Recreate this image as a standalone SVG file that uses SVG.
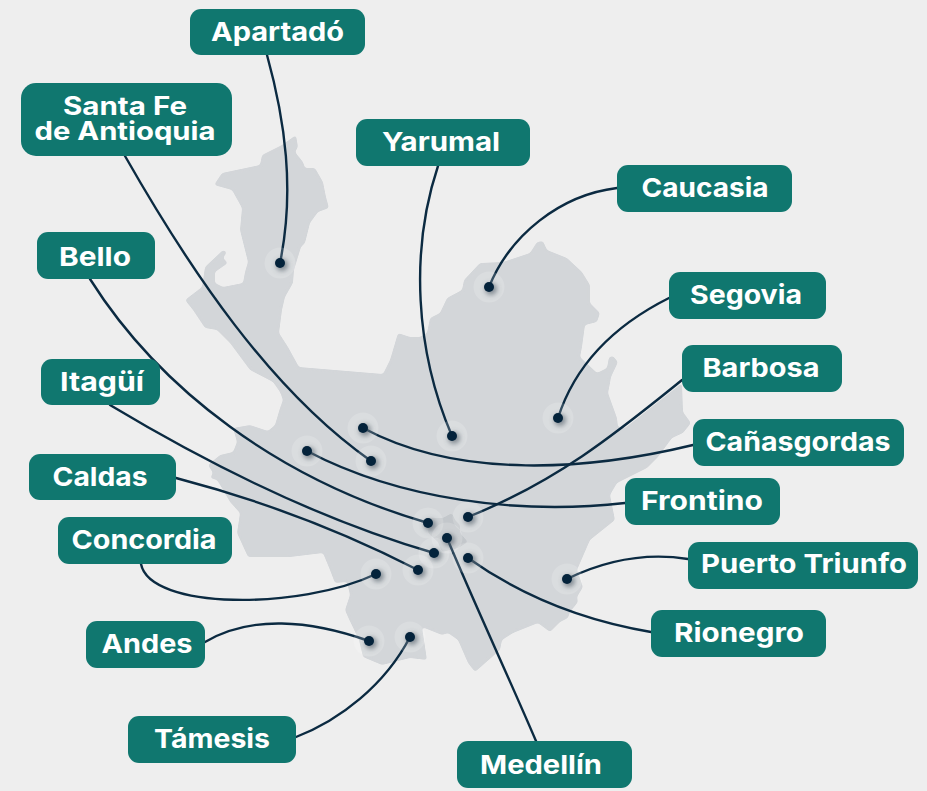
<svg xmlns="http://www.w3.org/2000/svg" width="927" height="791" viewBox="0 0 927 791">
<style>
.box{fill:#10776f}
.lbl{font-family:Inter,"Open Sans","Liberation Sans",sans-serif;font-weight:700;font-size:26px;fill:#fff;text-anchor:middle}
.tight{font-size:25px}
.con{fill:none;stroke:#0b2a41;stroke-width:2.4;stroke-linecap:round}
.halo{fill:#fff;fill-opacity:.17}
.shade{fill:#4a5560;fill-opacity:.6;filter:url(#b)}
.dot{fill:#04233b}
</style>
<defs>
<filter id="b" x="-100%" y="-100%" width="300%" height="300%"><feGaussianBlur stdDeviation="2.6"/></filter>
<filter id="soft" x="-5%" y="-5%" width="110%" height="110%"><feGaussianBlur stdDeviation="1.7"/><feComponentTransfer><feFuncA type="linear" slope="5" intercept="-2"/></feComponentTransfer></filter>
<g id="pin"><circle class="halo" r="15.500"/><circle class="shade" cx="2" cy="2" r="6"/><circle class="dot" r="5"/></g>
</defs>
<rect width="927" height="791" fill="#eeeeee"/>
<path id="map" fill="#d3d6d9" filter="url(#soft)" d="M296,135 L298,147 L295,152 L303,162 L305,168 L315,168 L323,182 L326,197 L329,208 L318,212 L310,223 L305,243 L301,247 L294,270 L293,283 L285,297 L282,310 L279,333 L288,347 L299,367 L383,374 L390,360 L398,333 L410,337 L420,337 L427,333 L430,318 L440,313 L447,298 L462,290 L464,280 L480,263 L503,262 L530,253 L537,242 L543,241 L547,250 L567,258 L582,272 L590,285 L590,303 L600,313 L597,322 L585,325 L582,347 L580,357 L597,373 L607,368 L609,357 L613,356 L618,362 L611,377 L610,383 L608,393 L617,418 L618,427 L625,428 L682,383 L683,412 L691,423 L683,433 L672,438 L658,457 L647,468 L617,483 L610,495 L615,520 L590,540 L577,570 L583,587 L577,597 L578,602 L570,612 L568,618 L560,622 L550,632 L538,623 L513,633 L502,640 L500,650 L475,672 L468,663 L458,640 L448,633 L442,635 L422,627 L427,660 L410,658 L382,665 L363,657 L359,640 L348,617 L345,610 L350,595 L347,582 L335,583 L330,570 L323,553 L290,557 L248,557 L237,533 L240,513 L230,502 L222,488 L217,480 L210,478 L213,473 L208,465 L220,455 L233,452 L237,442 L233,428 L250,425 L268,431 L275,425 L280,408 L283,400 L280,392 L273,382 L250,370 L230,343 L217,330 L205,328 L193,310 L185,300 L202,287 L205,267 L223,250 L227,252 L223,258 L228,263 L215,272 L215,283 L223,287 L243,283 L245,272 L248,262 L240,230 L242,208 L232,190 L214,185 L222,173 L260,165 L262,155 L282,145 Z"/>
<path fill="#c3c7cb" filter="url(#soft)" d="M430,518 L443,518 L452,513 L455,520 L460,525 L460,533 L468,542 L458,548 L442,552 L438,542 L428,533 Z"/>
<g id="connectors">
<path class="con" d="M267,55 C285,120 295,190 280,263"/>
<path class="con" d="M125,156 C190,270 270,390 371,461"/>
<path class="con" d="M438,166 C410,250 415,350 452,436"/>
<path class="con" d="M617,188 C560,195 510,235 489,287"/>
<path class="con" d="M669,298 C615,325 575,365 558,418"/>
<path class="con" d="M682,380 C620,430 560,480 468,517"/>
<path class="con" d="M693,445 C590,470 460,480 363,428"/>
<path class="con" d="M625,503 C520,515 400,500 307,451"/>
<path class="con" d="M90,279 C160,390 280,480 428,523"/>
<path class="con" d="M110,405 C210,465 320,520 434,553"/>
<path class="con" d="M176,478 C260,500 340,530 418,570"/>
<path class="con" d="M141,564 C150,610 300,610 376,574"/>
<path class="con" d="M205,642 C250,615 310,620 369,641"/>
<path class="con" d="M296,737 C340,720 385,685 410,637"/>
<path class="con" d="M536,741 C510,680 475,605 447,538"/>
<path class="con" d="M651,632 C580,620 520,595 468,558"/>
<path class="con" d="M688,559 C650,553 610,558 567,579"/>
</g>
<g id="apartado"><use href="#pin" x="280" y="263"/><rect class="box" x="190" y="9" width="175" height="46" rx="11"/><text class="lbl" x="277.500" y="41" textLength="133" lengthAdjust="spacingAndGlyphs">Apartadó</text></g>
<g id="santa-fe"><use href="#pin" x="371" y="461"/><rect class="box" x="21" y="83" width="211" height="73" rx="15"/><text class="lbl tight" x="125" y="115" textLength="124" lengthAdjust="spacingAndGlyphs">Santa Fe</text><text class="lbl tight" x="125" y="140" textLength="181" lengthAdjust="spacingAndGlyphs">de Antioquia</text></g>
<g id="yarumal"><use href="#pin" x="452" y="436"/><rect class="box" x="356" y="119" width="174" height="47" rx="11"/><text class="lbl" x="441" y="151" textLength="118" lengthAdjust="spacingAndGlyphs">Yarumal</text></g>
<g id="caucasia"><use href="#pin" x="489" y="287"/><rect class="box" x="617" y="165" width="175" height="47" rx="11"/><text class="lbl" x="705" y="197" textLength="127" lengthAdjust="spacingAndGlyphs">Caucasia</text></g>
<g id="bello"><use href="#pin" x="428" y="523"/><rect class="box" x="37" y="232" width="118" height="47" rx="11"/><text class="lbl" x="95" y="266" textLength="72" lengthAdjust="spacingAndGlyphs">Bello</text></g>
<g id="segovia"><use href="#pin" x="558" y="418"/><rect class="box" x="669" y="272" width="157" height="47" rx="11"/><text class="lbl" x="746" y="304" textLength="112" lengthAdjust="spacingAndGlyphs">Segovia</text></g>
<g id="barbosa"><use href="#pin" x="468" y="517"/><rect class="box" x="682" y="345" width="160" height="47" rx="11"/><text class="lbl" x="761" y="377" textLength="117" lengthAdjust="spacingAndGlyphs">Barbosa</text></g>
<g id="itagui"><use href="#pin" x="434" y="553"/><rect class="box" x="41" y="359" width="119" height="46" rx="11"/><text class="lbl" x="102" y="391" textLength="84" lengthAdjust="spacingAndGlyphs">Itagüí</text></g>
<g id="canasgordas"><use href="#pin" x="363" y="428"/><rect class="box" x="693" y="419" width="211" height="47" rx="11"/><text class="lbl" x="798" y="451" textLength="185" lengthAdjust="spacingAndGlyphs">Cañasgordas</text></g>
<g id="frontino"><use href="#pin" x="307" y="451"/><rect class="box" x="625" y="478" width="155" height="47" rx="11"/><text class="lbl" x="702" y="510" textLength="122" lengthAdjust="spacingAndGlyphs">Frontino</text></g>
<g id="caldas"><use href="#pin" x="418" y="570"/><rect class="box" x="29" y="454" width="147" height="46" rx="11"/><text class="lbl" x="100" y="486" textLength="95" lengthAdjust="spacingAndGlyphs">Caldas</text></g>
<g id="concordia"><use href="#pin" x="376" y="574"/><rect class="box" x="58" y="517" width="174" height="47" rx="11"/><text class="lbl" x="144" y="549" textLength="145" lengthAdjust="spacingAndGlyphs">Concordia</text></g>
<g id="puerto-triunfo"><use href="#pin" x="567" y="579"/><rect class="box" x="688" y="542" width="230" height="47" rx="11"/><text class="lbl" x="804" y="573" textLength="206" lengthAdjust="spacingAndGlyphs">Puerto Triunfo</text></g>
<g id="rionegro"><use href="#pin" x="468" y="558"/><rect class="box" x="651" y="610" width="175" height="47" rx="11"/><text class="lbl" x="739" y="642" textLength="130" lengthAdjust="spacingAndGlyphs">Rionegro</text></g>
<g id="andes"><use href="#pin" x="369" y="641"/><rect class="box" x="86" y="621" width="119" height="47" rx="11"/><text class="lbl" x="147" y="653" textLength="91" lengthAdjust="spacingAndGlyphs">Andes</text></g>
<g id="tamesis"><use href="#pin" x="410" y="637"/><rect class="box" x="128" y="716" width="168" height="47" rx="11"/><text class="lbl" x="212" y="748" textLength="116" lengthAdjust="spacingAndGlyphs">Támesis</text></g>
<g id="medellin"><use href="#pin" x="447" y="538"/><rect class="box" x="457" y="741" width="175" height="47" rx="11"/><text class="lbl" x="541" y="774" textLength="122" lengthAdjust="spacingAndGlyphs">Medellín</text></g>
</svg>
